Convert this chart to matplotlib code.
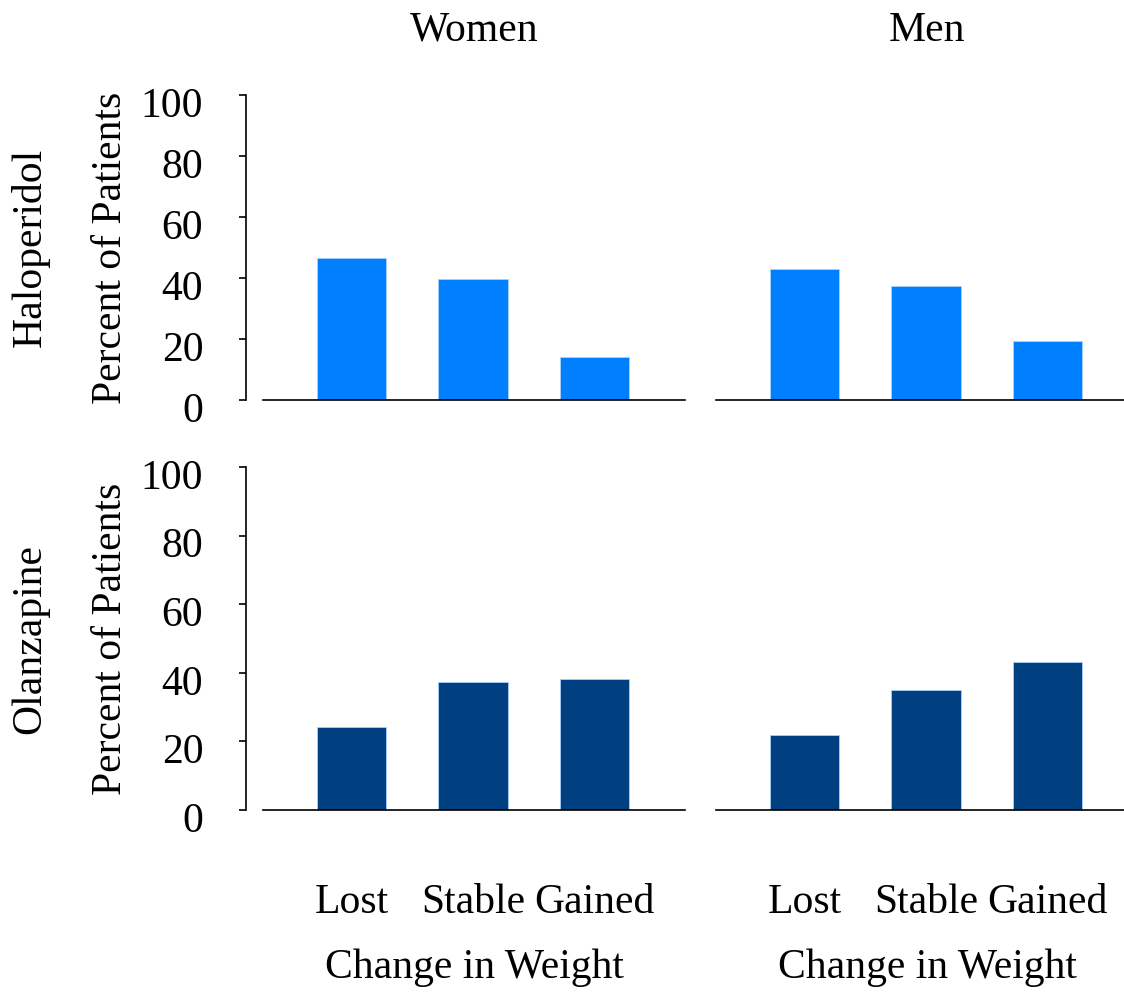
import matplotlib.pyplot as plt
import matplotlib.transforms as mtransforms

plt.rcParams['font.family'] = ['Liberation Serif', 'DejaVu Serif']

categories = ["Lost", "Stable", "Gained"]
sexes = ["Women", "Men"]
drugs = ["Haloperidol", "Olanzapine"]

# percent of patients
haloperidol_women = [46.4, 39.8, 14.1]
haloperidol_men = [43.1, 37.5, 19.4]
olanzapine_women = [24.2, 37.3, 38.2]
olanzapine_men = [21.9, 35.0, 43.1]

yticks = [0, 20, 40, 60, 80, 100]
colors = {"Haloperidol": "#0080FF", "Olanzapine": "#004080"}

data = {
    ("Haloperidol", "Women"): haloperidol_women,
    ("Haloperidol", "Men"): haloperidol_men,
    ("Olanzapine", "Women"): olanzapine_women,
    ("Olanzapine", "Men"): olanzapine_men,
}

W, H = 1124, 993
fig = plt.figure(figsize=(W / 100, H / 100), dpi=100)

# panel boxes in pixels: (left, top, width, height)
lefts = {"Women": 263, "Men": 716}
rows = {"Haloperidol": (95, 305), "Olanzapine": (467, 343)}
panel_w = 422

fs = 30
x = list(range(len(categories)))

for drug in drugs:
    top, h = rows[drug]
    for sex in sexes:
        left = lefts[sex]
        ax = fig.add_axes([left / W, (H - top - h) / H, panel_w / W, h / H])
        ax.bar(x, data[(drug, sex)], width=0.57, color=colors[drug],
               edgecolor="#a8d0ff", linewidth=0.6)
        ax.set_xlim(-0.73, 2.745)
        ax.set_ylim(0, 100)
        for s in ["top", "right"]:
            ax.spines[s].set_visible(False)
        ax.spines["bottom"].set_linewidth(1.2)
        ax.tick_params(axis="x", length=0)
        if sex == "Women":
            ax.spines["left"].set_position(("outward", 12))
            ax.spines["left"].set_linewidth(1.2)
            ax.set_yticks(yticks)
            ax.tick_params(axis="y", length=5, width=1.2, pad=26, labelsize=fs)
            off = mtransforms.ScaledTranslation(0, -0.07, fig.dpi_scale_trans)
            for lab in ax.get_yticklabels():
                lab.set_transform(lab.get_transform() + off)
            ax.set_ylabel("Percent of Patients", fontsize=fs, labelpad=8)
            fig.text(30 / W, (H - (top + h / 2)) / H, drug, rotation=90,
                     fontsize=fs, ha="center", va="center")
        else:
            ax.spines["left"].set_visible(False)
            ax.set_yticks([])
        if drug == "Haloperidol":
            ax.set_xticks([])
            ax.set_title(sex, fontsize=fs, pad=39)
        else:
            ax.set_xticks(x)
            ax.set_xticklabels(categories, fontsize=fs)
            ax.tick_params(axis="x", pad=53)
            ax.set_xlabel("Change in Weight", fontsize=fs, labelpad=19)

fig.savefig("out.png", dpi=100)
